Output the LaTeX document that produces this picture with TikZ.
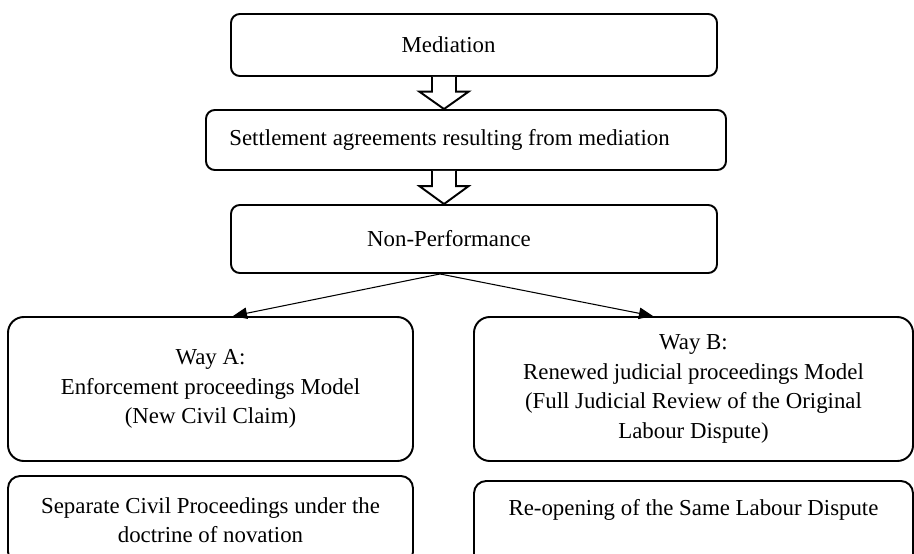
\documentclass[tikz,border=0pt]{standalone}
\usepackage{fontspec}
\setmainfont{Liberation Serif}
\usetikzlibrary{arrows.meta, positioning, calc}

\begin{document}
\begin{tikzpicture}[>={Triangle[length=8pt, width=6.5pt]},
    stagebox/.style={draw, line width=1.1pt, rounded corners=5pt, align=center,
      font=\fontsize{13}{16.8}\selectfont},
    waybox/.style={stagebox, rounded corners=9pt},
    stagetext/.style={font=\fontsize{13}{16.8}\selectfont},
    hollow/.style={line width=1.1pt, fill=white, draw, line join=miter}]
    \useasboundingbox (0,0) rectangle (18.28,-11.06);
    \clip (0,0) rectangle (18.28,-11.06);

    % Main chain
    \node[stagebox, minimum width=9.72cm, minimum height=1.24cm] (med) at (9.48,-0.90) {};
    \node[stagebox, minimum width=10.40cm, minimum height=1.20cm] (settle) at (9.32,-2.80) {};
    \node[stagebox, minimum width=9.72cm, minimum height=1.36cm] (nonperf) at (9.48,-4.78) {};
    \node[stagetext] (medtext) at ([xshift=-0.51cm]med.center) {Mediation};
    \node[stagetext] (settletext) at ([xshift=-0.33cm]settle.center)
      {Settlement agreements resulting from mediation};
    \node[stagetext] (nonperftext) at ([xshift=-0.50cm]nonperf.center) {Non-Performance};

    % Hollow block arrows
    \foreach \from/\to/\dx in {med/settle/-0.60, settle/nonperf/-0.44}{
      \draw[hollow] ($(\from.south)+(\dx-0.24,0)$)
        -- ($(\from.south)!0.46!(\from.south |- \to.north)+(\dx-0.24,0)$)
        -- ($(\from.south)!0.46!(\from.south |- \to.north)+(\dx-0.49,0)$)
        -- ($(\from.south |- \to.north)+(\dx,0)$)
        -- ($(\from.south)!0.46!(\from.south |- \to.north)+(\dx+0.49,0)$)
        -- ($(\from.south)!0.46!(\from.south |- \to.north)+(\dx+0.24,0)$)
        -- ($(\from.south)+(\dx+0.24,0)$);
    }

    % The two ways
    \node[waybox, minimum width=8.10cm, minimum height=2.88cm] (wayA) at (4.21,-7.78)
      {Way A:\\ Enforcement proceedings Model\\ (New Civil Claim)};
    \node[waybox, minimum width=8.78cm, minimum height=2.88cm] (wayB) at (13.87,-7.78)
      {Way B:\\ Renewed judicial proceedings Model\\ (Full Judicial Review of the Original\\ Labour Dispute)};

    \coordinate (split) at ([xshift=-0.68cm]nonperf.south);
    \draw[->, line width=0.6pt] (split) -- ([xshift=0.45cm]wayA.north);
    \draw[->, line width=0.6pt] (split) -- ([xshift=-0.81cm]wayB.north);

    % Outcomes (cut off at the bottom)
    \node[stagebox, rounded corners=7pt, anchor=north, minimum width=8.10cm, minimum height=1.76cm] (civil)
      at (4.21,-9.50) {Separate Civil Proceedings under the\\ doctrine of novation};
    \node[stagebox, rounded corners=7pt, anchor=north, minimum width=8.78cm, inner ysep=0.15cm,
      text height=0.55cm, text depth=1.2cm] (reopen)
      at (13.87,-9.60) {Re-opening of the Same Labour Dispute};
\end{tikzpicture}
\end{document}
